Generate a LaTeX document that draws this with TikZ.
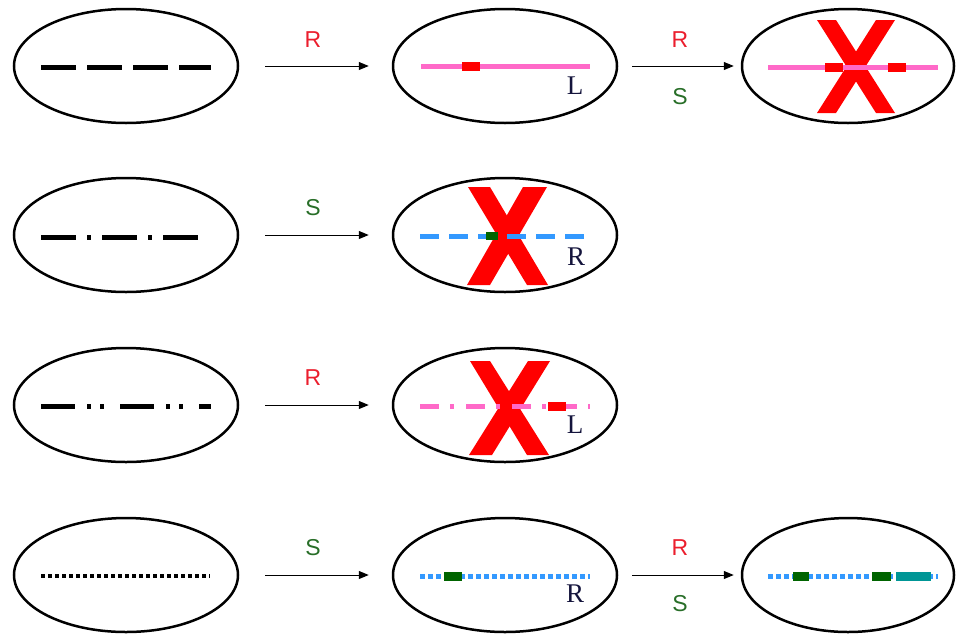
\documentclass[tikz,border=0pt]{standalone}
\usepackage{fontspec}
\setmainfont{Liberation Serif}
\newfontfamily\labfont{Liberation Sans}
\usetikzlibrary{shapes.geometric,arrows.meta}
\definecolor{labred}{RGB}{235,30,45}
\definecolor{labgreen}{RGB}{40,110,40}
\definecolor{pinkline}{RGB}{255,105,200}
\definecolor{blueline}{RGB}{51,153,255}
\definecolor{dgreen}{RGB}{0,100,0}
\definecolor{tealbar}{RGB}{0,150,150}
\definecolor{navy}{RGB}{20,20,60}
\begin{document}
\begin{tikzpicture}[x=1pt,y=-1pt,
  oval/.style={ellipse,draw,line width=2.5pt,minimum width=224pt,minimum height=114pt,inner sep=0pt},
  arr/.style={line width=1pt,-{Triangle[length=10pt,width=8pt]}},
  lab/.style={font=\labfont\fontsize{23}{23}\selectfont,inner sep=0pt},
  side/.style={font=\fontsize{27}{27}\selectfont,text=navy,inner sep=0pt},
  bigx/.style={fill=red},
  seg/.style={line width=5pt},
]
\useasboundingbox (0,0) rectangle (957,635);
% ellipses
\node[oval] (e11) at (126,66) {};
\node[oval] (e12) at (505,66) {};
\node[oval,minimum width=212pt] (e13) at (848,66) {};
\node[oval] (e21) at (126,235) {};
\node[oval] (e22) at (505,235) {};
\node[oval] (e31) at (126,405) {};
\node[oval] (e32) at (505,405) {};
\node[oval] (e41) at (126,575) {};
\node[oval] (e42) at (505,575) {};
\node[oval,minimum width=212pt] (e43) at (848,575) {};
% arrows
\draw[arr,shorten <=26pt,shorten >=23pt] (e11.east) -- (e12.west);
\draw[arr,shorten <=14pt,shorten >=7pt] (e12.east) -- (e13.west);
\draw[arr,shorten <=26pt,shorten >=23pt] (e21.east) -- (e22.west);
\draw[arr,shorten <=26pt,shorten >=23pt] (e31.east) -- (e32.west);
\draw[arr,shorten <=26pt,shorten >=23pt] (e41.east) -- (e42.west);
\draw[arr,shorten <=14pt,shorten >=7pt] (e42.east) -- (e43.west);
% arrow labels
\node[lab,text=labred] (a1) at (313,40) {R};
\node[lab,text=labred] (a2) at (680,40) {R};
\node[lab,text=labgreen] (a3) at (680,97) {S};
\node[lab,text=labgreen] (a4) at (313,208) {S};
\node[lab,text=labred] (a5) at (313,378) {R};
\node[lab,text=labgreen] (a6) at (313,548) {S};
\node[lab,text=labred] (a7) at (680,548) {R};
\node[lab,text=labgreen] (a8) at (680,604) {S};
% big crosses
\fill[bigx] (817,20)--(836,20)--(895,113)--(876,113)--cycle;
\fill[bigx] (876,20)--(895,20)--(836,113)--(817,113)--cycle;
\fill[bigx] (468,187)--(490,187)--(548,285)--(527,285)--cycle;
\fill[bigx] (523,187)--(547,187)--(490,285)--(467,285)--cycle;
\fill[bigx] (470,361)--(490,361)--(549,455)--(527,455)--cycle;
\fill[bigx] (528,361)--(550,361)--(492,455)--(469,455)--cycle;
% black patterns (left column)
\draw[seg,dash pattern=on 35pt off 11pt] (41,67) -- (211,67);
\draw[seg,dash pattern=on 35pt off 11pt on 4pt off 11pt] (41,237) -- (200,237);
\draw[seg,dash pattern=on 34pt off 12pt on 4pt off 9pt on 4pt off 16pt] (41,406) -- (211,406);
\draw[line width=4pt,dash pattern=on 4pt off 3pt] (41,576) -- (210,576);
% row 1
\draw[seg,pinkline] (421,66) -- (590,66);
\fill[red] (462,62) rectangle (480,71);
\draw[seg,pinkline] (768,67) -- (938,67);
\fill[red] (825,62.5) rectangle (843,71.5);
\fill[red] (888,62.5) rectangle (906,71.5);
% row 2
\draw[seg,blueline,dash pattern=on 19pt off 10pt] (420,236) -- (584,236);
\fill[dgreen] (486,232) rectangle (498,240);
% row 3
\draw[seg,pinkline,dash pattern=on 19pt off 11pt on 4pt off 12pt] (420,406) -- (590,406);
\fill[red] (548,401.5) rectangle (566,410.5);
% row 4
\draw[seg,blueline,dash pattern=on 5pt off 3pt] (420,576) -- (590,576);
\fill[dgreen] (444,571.5) rectangle (462,580.5);
\draw[seg,blueline,dash pattern=on 5pt off 3pt] (768,576) -- (938,576);
\fill[dgreen] (793,571.5) rectangle (809,580.5);
\fill[dgreen] (872,571.5) rectangle (891,580.5);
\fill[tealbar] (896,571.5) rectangle (931,580.5);
% side letters
\node[side] (s1) at (575,86) {L};
\node[side] (s2) at (576,257) {R};
\node[side] (s3) at (575,425) {L};
\node[side] (s4) at (575,594) {R};
\end{tikzpicture}
\end{document}
